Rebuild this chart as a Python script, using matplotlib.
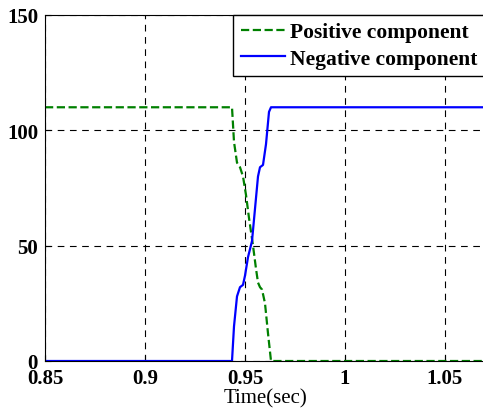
import matplotlib.pyplot as plt
import numpy as np

plt.rcParams['font.family'] = ['Liberation Serif', 'DejaVu Serif']

# positive sequence component
t_pos = [0.85, 0.9435, 0.9445, 0.9460, 0.9475, 0.9490, 0.9505, 0.9520, 0.9540,
         0.9555, 0.9565, 0.9575, 0.9585, 0.9600, 0.9615, 0.9630, 1.07]
v_pos = [110, 110, 95, 86, 84, 80, 72, 62, 50, 40, 34, 32, 31, 25, 12, 0, 0]

# negative sequence component
t_neg = [0.85, 0.9435, 0.9445, 0.9460, 0.9475, 0.9490, 0.9500, 0.9515, 0.9535,
         0.9550, 0.9565, 0.9575, 0.9590, 0.9605, 0.9620, 0.9630, 1.07]
v_neg = [0, 0, 15, 28, 32, 33, 37, 45, 52, 66, 80, 84, 85, 94, 108, 110, 110]

xticks = [0.85, 0.9, 0.95, 1, 1.05]
xticklabels = ['0.85', '0.9', '0.95', '1', '1.05']
yticks = [0, 50, 100, 150]

fig = plt.figure(figsize=(4.83, 4.14), dpi=100)
ax = fig.add_axes([45/483, 1-362/414, 440/483, 346/414])

ax.plot(t_pos, v_pos, '--', color='#008000', lw=1.6, label='Positive component')
ax.plot(t_neg, v_neg, '-', color='#0000FF', lw=1.6, label='Negative component')

ax.set_xlim(0.85, 1.07)
ax.set_ylim(0, 150)
ax.set_xticks(xticks)
ax.set_xticklabels(xticklabels)
ax.set_yticks(yticks)
ax.tick_params(direction='in', length=4, labelsize=15)
ax.tick_params(axis='x', pad=5)
ax.tick_params(axis='y', pad=5)
for lab in ax.get_xticklabels() + ax.get_yticklabels():
    lab.set_fontweight('bold')
ax.grid(True, linestyle=(0, (6, 5)), color='black', lw=0.8)
ax.set_xlabel('Time(sec)', fontsize=15, labelpad=0)

leg = ax.legend(loc='upper right', borderaxespad=0,
                fancybox=False, frameon=True, edgecolor='black', framealpha=1,
                prop={'weight': 'bold', 'size': 15.5}, handlelength=2.05,
                handletextpad=0.25, borderpad=0.34, labelspacing=0.29)
leg.get_frame().set_linewidth(1.0)

fig.savefig('out.png', dpi=100)
